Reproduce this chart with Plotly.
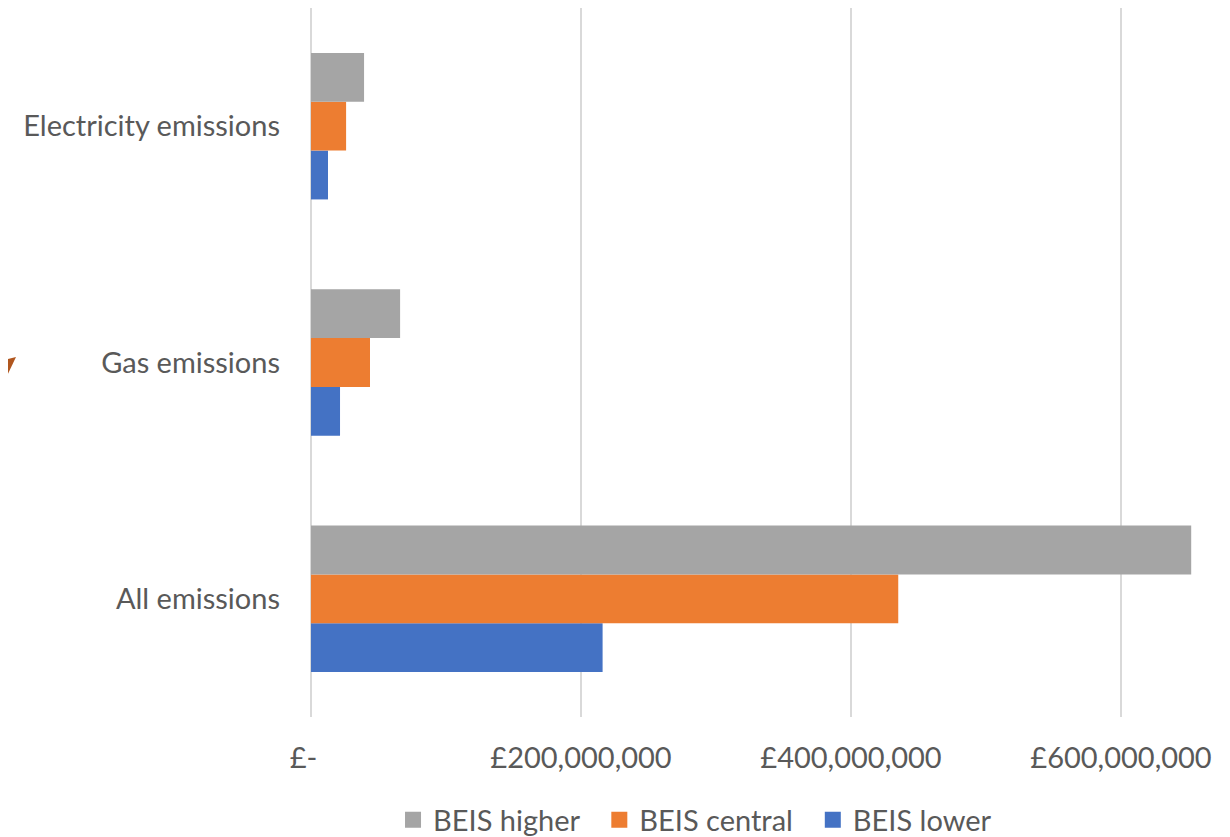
import plotly.graph_objects as go

categories = ["All emissions", "Gas emissions", "Electricity emissions"]
beis_lower = [216e6, 21.5e6, 12.6e6]
beis_central = [435e6, 43.7e6, 26e6]
beis_higher = [652e6, 66e6, 39.3e6]
tick_vals = [0, 200e6, 400e6, 600e6]
tick_text = ["£-  ", "£200,000,000", "£400,000,000", "£600,000,000"]

FONT = "Lato, 'Noto Sans', sans-serif"
TXT = "#595959"
FS = 29
COL = {"BEIS lower": "#4472C4", "BEIS central": "#ED7D31", "BEIS higher": "#A5A5A5"}
PAD = "\u00a0\u00a0"

fig = go.Figure()
for name, vals in [("BEIS lower", beis_lower), ("BEIS central", beis_central), ("BEIS higher", beis_higher)]:
    fig.add_trace(go.Bar(y=categories, x=vals, orientation="h", name=name, showlegend=False,
                         marker=dict(color=COL[name], line=dict(width=0))))
for name, pad in [("BEIS higher", PAD), ("BEIS central", PAD), ("BEIS lower", "")]:
    fig.add_trace(go.Scatter(x=[None], y=[None], mode="markers", name=name + pad,
                             marker=dict(symbol="square", size=19, color=COL[name])))

# page body offsets the figure by 8px
OFF = 8
W, H = 1222, 829
L, R, T, B = 303, 28, 0, 120
pw = W - L - R
ph = H - T - B

def px(x, y):
    return ((x - OFF - L) / pw, (H - B - (y - OFF)) / ph)

tri = [px(0, 361), px(16, 357), px(4, 382), px(0, 376)]
path = "M " + " L ".join(f"{a},{b}" for a, b in tri) + " Z"

fig.update_layout(
    width=W, height=H,
    margin=dict(l=L, r=R, t=T, b=B, autoexpand=False),
    paper_bgcolor="white", plot_bgcolor="white",
    barmode="group", bargap=0.38, bargroupgap=0,
    font=dict(family=FONT, size=FS, color=TXT),
    xaxis=dict(range=[0, 660e6], tickvals=tick_vals, ticktext=tick_text,
               showgrid=True, gridcolor="#D9D9D9", gridwidth=1.5,
               zeroline=True, zerolinecolor="#D9D9D9", zerolinewidth=1.5,
               showline=False, ticks="", ticklabelstandoff=21,
               tickfont=dict(family=FONT, size=FS, color=TXT)),
    yaxis=dict(categoryorder="array", categoryarray=categories,
               showgrid=False, zeroline=False, showline=False, ticks="",
               ticklabelstandoff=30,
               tickfont=dict(family=FONT, size=FS, color=TXT)),
    legend=dict(orientation="h", x=0.431, xanchor="center", y=-0.145, yanchor="middle",
                font=dict(family=FONT, size=FS, color=TXT), itemwidth=30),
    shapes=[dict(type="path", path=path, xref="paper", yref="paper",
                 fillcolor="#B0561E", line=dict(width=0))],
)

fig.write_html("out.html")
